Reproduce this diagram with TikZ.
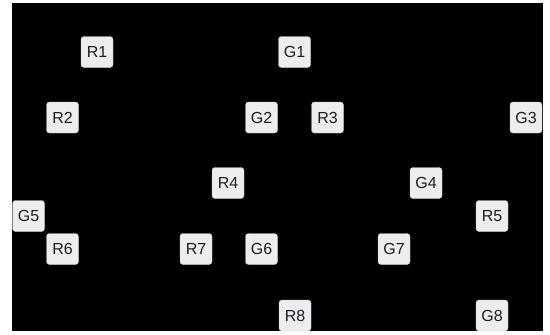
\documentclass[tikz,border=0pt]{standalone}
\usepackage{fontspec}
\setmainfont{Liberation Sans}
\definecolor{boxfill}{HTML}{EDEDF0}
\definecolor{txt}{HTML}{1E1E1E}
\begin{document}
\begin{tikzpicture}[x=1pt,y=-1pt,
  lbl/.style={fill=boxfill,draw=gray!40,line width=0.4pt,rounded corners=3pt,
    minimum width=32pt,minimum height=31pt,inner sep=0pt,
    font=\fontsize{16}{16}\selectfont,text=txt}]
\useasboundingbox (0,0) rectangle (550,335);
\fill[white] (0,0) rectangle (550,335);
\fill[black] (12,3) rectangle (543,331);
\node[lbl] (R1) at (97,52) {R1};
\node[lbl] (G1) at (294.5,52) {G1};
\node[lbl] (R2) at (62.5,117.5) {R2};
\node[lbl] (G2) at (261.5,117.5) {G2};
\node[lbl] (R3) at (327.5,117.5) {R3};
\node[lbl] (G3) at (526,117.5) {G3};
\node[lbl] (R4) at (228,183) {R4};
\node[lbl] (G4) at (426,183) {G4};
\node[lbl] (G5) at (28.5,216) {G5};
\node[lbl] (R5) at (492,216) {R5};
\node[lbl] (R6) at (62.5,249) {R6};
\node[lbl] (R7) at (196,249) {R7};
\node[lbl] (G6) at (261.5,249) {G6};
\node[lbl] (G7) at (394,249) {G7};
\node[lbl] (R8) at (295,315.5) {R8};
\node[lbl] (G8) at (492,315.5) {G8};
\end{tikzpicture}
\end{document}
